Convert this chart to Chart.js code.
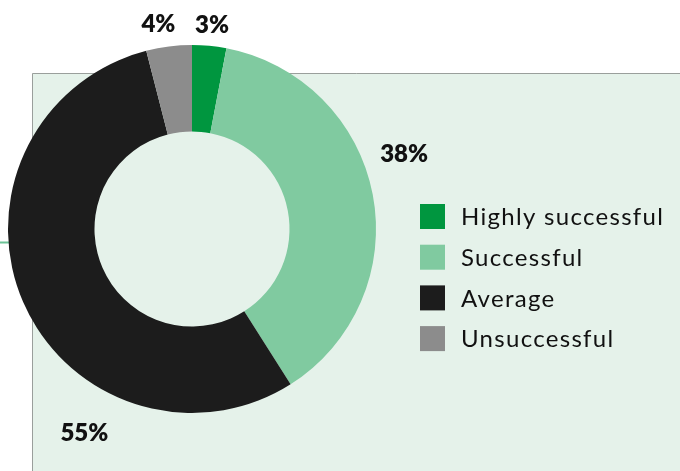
<!DOCTYPE html>
<html>
<head>
<meta charset="utf-8">
<script src="https://cdn.jsdelivr.net/npm/chart.js@4"></script>
<style>
  html, body { margin: 0; padding: 0; background: #ffffff; }
  #chartRoot { width: 680px; height: 471px; }
</style>
</head>
<body>
<div id="chartRoot"><canvas id="myChart" width="680" height="471"></canvas></div>
<script>
// survey results, percent of respondents
const categories = ['Highly successful', 'Successful', 'Average', 'Unsuccessful'];
const shares = [3, 38, 55, 4];
const sliceColors = ['#00963f', '#80caa0', '#1c1c1c', '#8c8c8c'];

// light panel behind the ring
const panelPlugin = {
	id: 'panel',
	beforeDraw(chart) {
		const ctx = chart.ctx;
		ctx.save();
		ctx.fillStyle = '#e5f2ea';
		ctx.fillRect(32, 73, chart.width - 32, chart.height - 73);
		ctx.strokeStyle = '#9a9f9c';
		ctx.lineWidth = 1;
		ctx.beginPath();
		ctx.moveTo(32.5, chart.height);
		ctx.lineTo(32.5, 73.5);
		ctx.lineTo(chart.width, 73.5);
		ctx.stroke();
		ctx.strokeStyle = '#6cc497';
		ctx.lineWidth = 2;
		ctx.beginPath();
		ctx.moveTo(0, 242.5);
		ctx.lineTo(60, 242.5);
		ctx.stroke();
		ctx.restore();
	}
};

// percent labels placed around the ring (angle clockwise from top, distance from centre)
const percentLabels = {
	id: 'percentLabels',
	afterDatasetsDraw(chart, args, opts) {
		const ctx = chart.ctx;
		const arcs = chart.getDatasetMeta(0).data;
		ctx.save();
		ctx.font = '800 24px Lato';
		ctx.fillStyle = '#111111';
		ctx.textAlign = 'center';
		ctx.textBaseline = 'alphabetic';
		arcs.forEach((arc, i) => {
			const a = opts.angles[i] * Math.PI / 180;
			const d = opts.distances[i];
			const x = arc.x + Math.sin(a) * d;
			const y = arc.y - Math.cos(a) * d;
			ctx.fillText(shares[i] + '%', x, y + 8.6);
		});
		ctx.restore();
	}
};

// legend on the right
const sideLegend = {
	id: 'sideLegend',
	afterDraw(chart, args, opts) {
		const ctx = chart.ctx;
		ctx.save();
		ctx.font = '24px Lato';
		ctx.letterSpacing = '1.3px';
		ctx.textAlign = 'left';
		ctx.textBaseline = 'alphabetic';
		categories.forEach((name, i) => {
			const top = opts.top + i * opts.step;
			ctx.fillStyle = sliceColors[i];
			ctx.fillRect(opts.left, top, opts.box, opts.box);
			ctx.fillStyle = '#111111';
			ctx.fillText(name, opts.left + opts.box + 16, top + opts.box / 2 + 8.8);
		});
		ctx.restore();
	}
};

const ctx = document.getElementById('myChart');
const donut = new Chart(ctx, {
	type: 'doughnut',
	data: {
		labels: categories,
		datasets: [
			{
				data: shares,
				backgroundColor: sliceColors,
				borderWidth: 0
			}
		]
	},
	options: {
		responsive: false,
		devicePixelRatio: 1,
		animation: false,
		cutout: '53%',
		layout: {
			padding: { left: 8, top: 45, right: 304, bottom: 58 }
		},
		plugins: {
			legend: { display: false },
			tooltip: { enabled: false },
			percentLabels: {
				angles: [5.6, 70.5, 207.9, -9.3],
				distances: [206, 225, 230, 208]
			},
			sideLegend: { left: 420, top: 204, step: 40.7, box: 25 }
		}
	},
	plugins: [panelPlugin, percentLabels, sideLegend]
});
</script>
</body>
</html>
